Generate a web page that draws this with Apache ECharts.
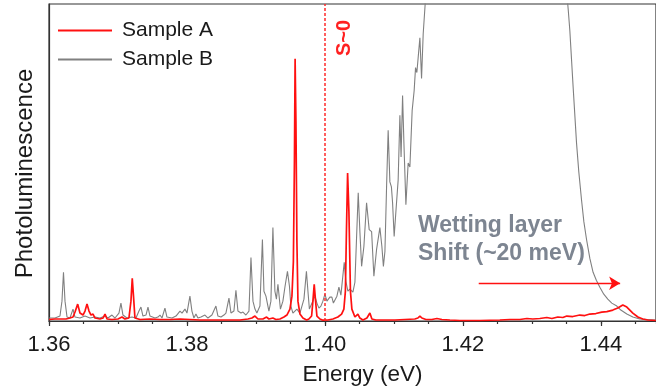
<!DOCTYPE html>
<html>
<head>
<meta charset="utf-8">
<script src="https://cdn.jsdelivr.net/npm/echarts@6/dist/echarts.min.js"></script>
<style>html,body{margin:0;padding:0;background:#fff;}#c{width:656px;height:391px;}</style>
</head>
<body>
<div id="c"></div>
<script>
// ---- data (energy in eV, photoluminescence in arbitrary units) ----
const energyA = [
1.36000,1.36087,1.36159,1.36246,1.36304,1.36348,1.36377,1.36416,1.36449,1.36493,
1.36522,1.36551,1.36580,1.36609,1.36638,1.36667,1.36739,1.36783,1.36812,1.36841,
1.36913,1.37000,1.37058,1.37101,1.37159,1.37188,1.37207,1.37225,1.37246,1.37319,
1.37464,1.37609,1.37754,1.37899,1.38043,1.38188,1.38478,1.38768,1.38884,1.38942,
1.38986,1.39029,1.39101,1.39155,1.39188,1.39246,1.39290,1.39348,1.39406,1.39449,
1.39493,1.39522,1.39543,1.39558,1.39568,1.39580,1.39594,1.39609,1.39638,1.39681,
1.39735,1.39768,1.39807,1.39826,1.39845,1.39862,1.39884,1.39928,1.39971,1.40043,
1.40116,1.40188,1.40242,1.40275,1.40297,1.40312,1.40329,1.40348,1.40370,1.40391,
1.40435,1.40478,1.40507,1.40551,1.40609,1.40652,1.40681,1.40739,1.41014,1.41304,
1.41348,1.41377,1.41406,1.41464,1.41551,1.41623,1.41696,1.41812,1.41957,1.42246,
1.42536,1.42681,1.42826,1.42928,1.43014,1.43116,1.43217,1.43290,1.43377,1.43449,
1.43507,1.43594,1.43696,1.43768,1.43841,1.43928,1.44014,1.44087,1.44174,1.44246,
1.44319,1.44377,1.44464,1.44537,1.44609,1.44681,1.44797
];
const sampleA = [
1.5,2,2,2,3,4,9,17,8,6,
10,17,10,6,7,3,2,3,7,2,
1.5,2,4,2,3,20,43,25,3,1.5,
2,1.5,1.5,2,1.5,1,1,1,2,3,
5,2,2,4,2,3,1.5,2,4,6,
12,25,60,160,264,200,80,20,7,3,
1,2,5,20,37,22,5,2,0.8,1,
2,4,7,12,30,90,149,110,30,12,
4,7,3,1,3,8,2,1,1,2,
3,5,3,1.5,1.5,2.5,1.5,1,0.5,0.5,
1,1.5,1.5,2.5,2,2.5,3.5,2.5,4,3.5,
5,4.5,6,5.5,7,7.5,9,9.5,11,13,
16,14,8,4,2,1,0.5
];
const energyB = [
1.36000,1.36087,1.36159,1.36188,1.36210,1.36232,1.36261,1.36304,1.36348,1.36377,
1.36449,1.36522,1.36594,1.36667,1.36739,1.36812,1.36855,1.36913,1.36957,1.37014,
1.37043,1.37072,1.37130,1.37203,1.37261,1.37304,1.37333,1.37362,1.37406,1.37435,
1.37464,1.37536,1.37580,1.37609,1.37638,1.37681,1.37710,1.37783,1.37841,1.37899,
1.37928,1.37971,1.38000,1.38043,1.38072,1.38101,1.38130,1.38159,1.38203,1.38261,
1.38304,1.38362,1.38420,1.38449,1.38493,1.38536,1.38565,1.38609,1.38638,1.38681,
1.38710,1.38739,1.38783,1.38812,1.38855,1.38899,1.38928,1.38957,1.38986,1.39014,
1.39058,1.39094,1.39116,1.39145,1.39188,1.39217,1.39246,1.39275,1.39297,1.39319,
1.39355,1.39391,1.39420,1.39457,1.39486,1.39507,1.39536,1.39565,1.39594,1.39638,
1.39667,1.39696,1.39732,1.39754,1.39775,1.39812,1.39855,1.39884,1.39913,1.39942,
1.39971,1.40000,1.40029,1.40043,1.40072,1.40101,1.40123,1.40145,1.40174,1.40203,
1.40232,1.40254,1.40280,1.40304,1.40333,1.40362,1.40406,1.40435,1.40483,1.40507,
1.40532,1.40565,1.40604,1.40642,1.40677,1.40710,1.40749,1.40797,1.40826,1.40848,
1.40870,1.40894,1.40917,1.40942,1.40964,1.40981,1.41004,1.41029,1.41062,1.41087,
1.41104,1.41126,1.41145,1.41174,1.41207,1.41232,1.41265,1.41294,1.41314,1.41333,
1.41352,1.41377,1.41401,1.41425,1.41464,1.41493,1.42000,1.42500,1.43000,1.43478,
1.43507,1.43529,1.43551,1.43599,1.43648,1.43681,1.43720,1.43754,1.43793,1.43841,
1.43888,1.43935,1.43986,1.44043,1.44101,1.44159,1.44232,1.44290,1.44377,1.44464,
1.44565,1.44797
];
const sampleB = [
3,3,5,20,49,20,4,3,12,4,
3,5,3,4,3,5,3,6,3,8,
18,6,3,4,3,10,14,5,6,14,
5,3,4,6,3,13,4,3,5,10,
8,12,8,25,10,3,7,3,4,6,
3,6,15,5,4,6,8,23,8,10,
31,10,8,9,6,10,64,20,12,8,
15,82,30,25,10,20,94,30,22,37,
12,20,34,50,35,15,8,10,12,8,
15,22,50,30,12,18,25,18,13,15,
20,27,20,18,24,24,18,20,25,34,
26,27,59,40,30,32,29,39,129,90,
55,75,119,92,90,45,72,94,75,55,
70,135,192,140,135,119,85,110,142,207,
165,227,180,117,159,155,212,232,255,250,
265,285,244,289,330,420,600,800,700,420,
330,312,292,235,179,150,122,100,82,63,
49,41,34,27,22,18,15,11,7,4,
2,1
];
const seriesNames = ['Sample A', 'Sample B'];
const xTickLabels = ['1.36', '1.38', '1.40', '1.42', '1.44'];
const markerEnergy = 1.40;          // S~0 marker
const arrowFrom = [1.4223, 38];      // wetting layer shift arrow
const arrowTo = [1.4428, 38];

const FONT = 'Liberation Sans, Arial, Helvetica, sans-serif';
const zip = (xs, ys) => xs.map((x, i) => [x, ys[i]]);
const X_MIN = 1.36, X_MAX = 1.448;

const chart = echarts.init(document.getElementById('c'), null, {renderer: 'canvas'});
chart.setOption({
  animation: false,
  backgroundColor: '#ffffff',
  grid: {left: 49, right: 0, top: 4, bottom: 68, show: true, borderColor: '#333', borderWidth: 1.2, backgroundColor: 'transparent'},
  legend: {
    data: seriesNames, orient: 'vertical', left: 53, top: 15,
    icon: 'rect', itemWidth: 54, itemHeight: 2, itemGap: 8,
    textStyle: {fontFamily: FONT, fontSize: 21, color: '#1a1a1a', padding: [0, 0, 0, 5]}
  },
  xAxis: [{
    type: 'value', min: X_MIN, max: X_MAX, interval: 0.02,
    name: 'Energy (eV)', nameLocation: 'middle', nameGap: 42,
    nameTextStyle: {fontFamily: FONT, fontSize: 22.5, color: '#1a1a1a', padding: [0, 0, 0, 20]},
    axisLine: {show: true, lineStyle: {color: '#333', width: 1.2}},
    axisTick: {show: true, inside: false, length: 5, lineStyle: {color: '#333', width: 1.2}},
    axisLabel: {
      margin: 13, fontFamily: FONT, fontSize: 22, color: '#1a1a1a', showMaxLabel: false,
      formatter: v => { const s = v.toFixed(2); return (xTickLabels.indexOf(s) >= 0 && Math.abs(v - parseFloat(s)) < 1e-6) ? s : ''; }
    },
    splitLine: {show: false}
  }, {
    type: 'value', min: X_MIN, max: X_MAX, interval: 0.005, position: 'bottom',
    axisLine: {show: false},
    axisTick: {show: true, inside: false, length: 3, lineStyle: {color: '#333', width: 1.2}},
    axisLabel: {show: false}, splitLine: {show: false}
  }],
  yAxis: {
    type: 'value', min: 0, max: 319,
    name: 'Photoluminescence', nameLocation: 'middle', nameGap: 12, nameRotate: 90,
    nameTextStyle: {fontFamily: FONT, fontSize: 24, color: '#1a1a1a', padding: [0, 0, 0, -22]},
    axisLine: {show: true, lineStyle: {color: '#333', width: 1.2}},
    axisTick: {show: false}, axisLabel: {show: false}, splitLine: {show: false}
  },
  series: [
    {
      name: seriesNames[0], type: 'line', data: zip(energyA, sampleA),
      symbol: 'none', z: 3, clip: true,
      lineStyle: {color: '#ff1010', width: 1.7}, itemStyle: {color: '#ff1010'},
      markLine: {
        silent: true, animation: false, symbol: ['none', 'none'], label: {show: false},
        lineStyle: {color: '#ff2a2a', type: [3, 2], width: 1.5},
        data: [{xAxis: markerEnergy}]
      }
    },
    {
      name: seriesNames[1], type: 'line', data: zip(energyB, sampleB),
      symbol: 'none', z: 2, clip: true,
      lineStyle: {color: '#808080', width: 1.1}, itemStyle: {color: '#808080'},
      markLine: {
        silent: true, animation: false, symbol: ['none', 'arrow'], symbolSize: [10, 11], label: {show: false},
        lineStyle: {color: '#ff1010', type: 'solid', width: 1.4},
        itemStyle: {color: '#ff1010'},
        data: [[{coord: arrowFrom}, {coord: arrowTo}]]
      }
    }
  ],
  graphic: [
    {type: 'text', x: 344, y: 38, rotation: Math.PI / 2, z: 10,
     style: {text: 'S~0', font: 'bold 20px ' + FONT, fill: '#ff2020', textAlign: 'center', textVerticalAlign: 'middle'}},
    {type: 'text', x: 418, y: 226, z: 10,
     style: {text: 'Wetting layer', font: 'bold 23px ' + FONT, fill: '#7d8591', textAlign: 'left', textVerticalAlign: 'middle'}},
    {type: 'text', x: 418, y: 254, z: 10,
     style: {text: 'Shift (~20 meV)', font: 'bold 23px ' + FONT, fill: '#7d8591', textAlign: 'left', textVerticalAlign: 'middle'}}
  ]
});
</script>
</body>
</html>
